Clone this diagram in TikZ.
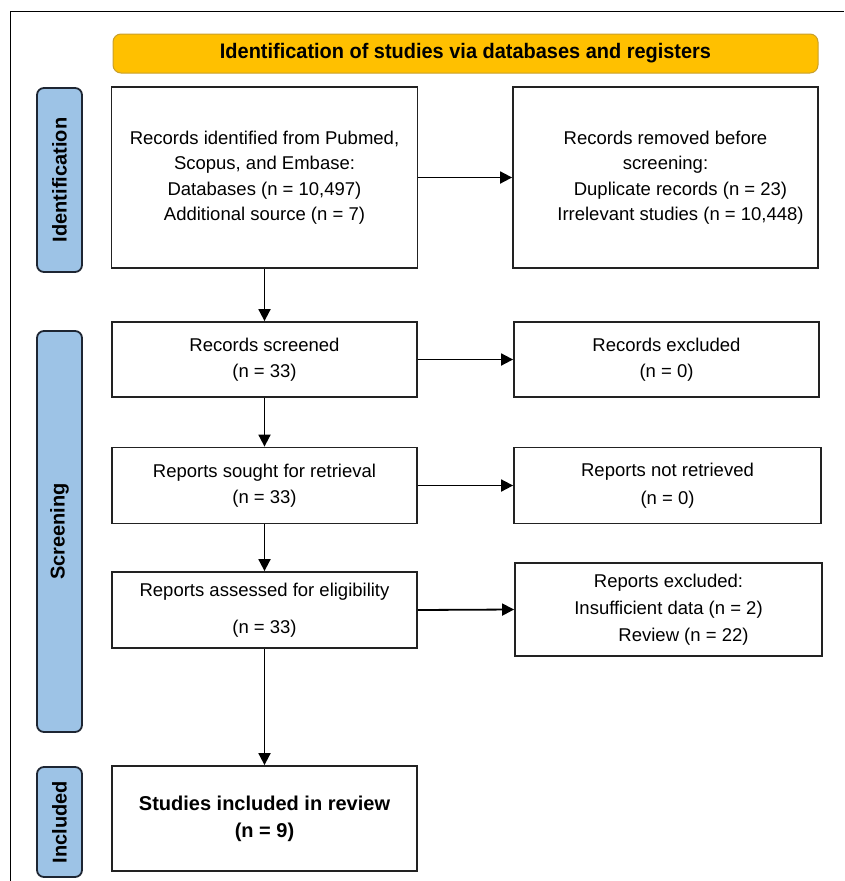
\documentclass[tikz,border=0pt]{standalone}
\usepackage{fontspec}
\setmainfont{Liberation Sans}
\usetikzlibrary{arrows.meta}
\definecolor{gold}{HTML}{FFC000}
\definecolor{goldedge}{HTML}{C89F2A}
\definecolor{sideblue}{HTML}{9DC3E6}
\definecolor{sideedge}{HTML}{1E2633}
\definecolor{boxedge}{HTML}{222222}
\begin{document}
\begin{tikzpicture}[x=1pt,y=-1pt,
  box/.style={draw=boxedge, line width=1.8pt, fill=white, align=center, inner sep=0pt,
              font=\fontsize{18.5}{25.5}\selectfont},
  sidebox/.style={draw=sideedge, line width=1.8pt, fill=sideblue, rounded corners=7pt,
              inner sep=0pt, rotate=90, font=\fontsize{20}{24}\selectfont\bfseries},
  banner/.style={draw=goldedge, line width=1pt, fill=gold, rounded corners=8pt,
              inner sep=0pt, font=\fontsize{21}{24}\selectfont\bfseries},
  arr/.style={line width=1.8pt, draw=black, -{Triangle[length=12pt,width=12pt]}}]
\useasboundingbox (0,0) rectangle (844,881);
\draw[line width=1pt] (10,881) -- (10,11) -- (844,11);

% banner
\node[banner, minimum width=705pt, minimum height=39pt] (ban) at (465.5,53.5)
  {\scalebox{0.95}[1]{Identification of studies via databases and registers}};

% side labels
\node[sidebox, minimum width=184pt, minimum height=45pt] (sid) at (59.5,180) {Identification};
\node[sidebox, minimum width=401pt, minimum height=45pt] (sscr) at (59.5,531.5) {Screening};
\node[sidebox, minimum width=110pt, minimum height=45pt] (sinc) at (59.5,822) {Included};

% left column
\node[box, minimum width=306pt, minimum height=181pt] (ident) at (264.5,177.5)
  {Records identified from Pubmed,\\ Scopus, and Embase:\\ Databases (n = 10,497)\\ Additional source (n = 7)};
\node[box, minimum width=305pt, minimum height=75pt] (scr) at (264.5,359.5)
  {Records screened\\ (n = 33)};
\node[box, minimum width=305pt, minimum height=76pt] (sought) at (264.5,485.5)
  {Reports sought for retrieval\\ (n = 33)};
\node[box, minimum width=305pt, minimum height=76pt] (assess) at (264.5,610)
  {Reports assessed for eligibility\\[11.5pt] (n = 33)};
\node[box, minimum width=305pt, minimum height=105pt,
      font=\fontsize{20}{27}\selectfont\bfseries] (incl) at (264.5,818.5)
  {Studies included in review\\ (n = 9)};

% right column
\node[box, minimum width=305pt, minimum height=181pt] (removed) at (665.5,177.5)
  {Records removed before\\ screening:\\ \hspace*{30pt}Duplicate records (n = 23)\\ \hspace*{30pt}Irrelevant studies (n = 10,448)};
\node[box, minimum width=305pt, minimum height=75pt] (excl) at (666.5,359.5)
  {Records excluded\\ (n = 0)};
\node[box, minimum width=307pt, minimum height=76pt,
      font=\fontsize{18.5}{28}\selectfont] (notret) at (667.5,485.5)
  {Reports not retrieved\\ (n = 0)};
\node[box, minimum width=307pt, minimum height=93pt,
      font=\fontsize{18.5}{27}\selectfont] (repexcl) at (668.5,609.5)
  {Reports excluded:\\ Insufficient data (n = 2)\\ \hspace*{30pt}Review (n = 22)};

% connectors
\draw[arr] (ident.east) -- (removed.west);
\draw[arr] (ident.south) -- (scr.north);
\draw[arr] (scr.east) -- (excl.west);
\draw[arr] (scr.south) -- (sought.north);
\draw[arr] (sought.east) -- (notret.west);
\draw[arr] (sought.south) -- (assess.north);
\draw[arr] (assess.east) -- (repexcl.west);
\draw[arr] (assess.south) -- (incl.north);
\end{tikzpicture}
\end{document}
